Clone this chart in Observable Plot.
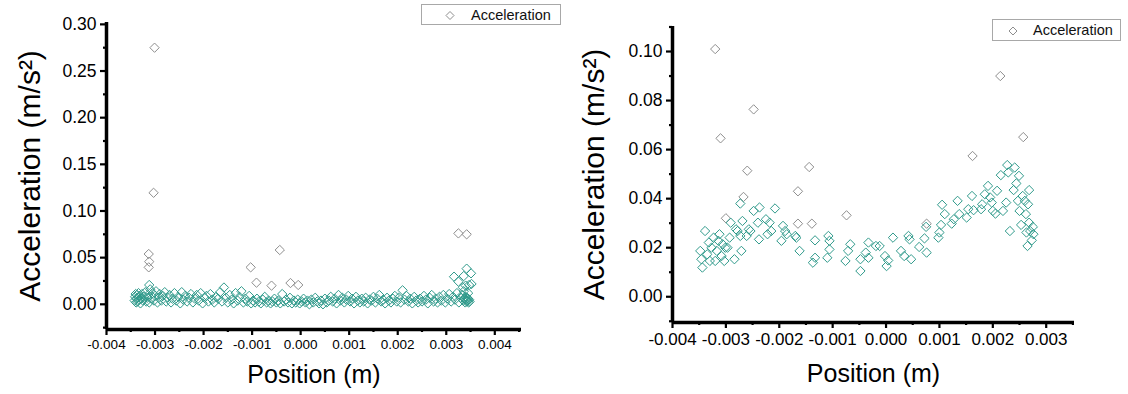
<!DOCTYPE html>
<html><head><meta charset="utf-8">
<script src="https://cdn.jsdelivr.net/npm/d3@7"></script>
<script src="https://cdn.jsdelivr.net/npm/@observablehq/plot@0.6"></script>
<style>
body{margin:0;background:#fff;font-family:"Liberation Sans",Arial,sans-serif;}
#wrap{position:relative;width:1128px;height:394px;overflow:hidden;background:#fff}
.panel{position:absolute;top:0}
.legend{position:absolute;border:1px solid #a8a8a8;background:#fff;font-size:14.5px;color:#111;box-sizing:border-box}
.legend svg{position:absolute;top:0;left:0}
.legend span{position:absolute;top:50%;transform:translateY(-50%);white-space:nowrap}
</style></head><body>
<div id="wrap"></div>
<script>
// ---------- data ----------
const seriesName = "Acceleration";
const xTitle = "Position (m)";
const yTitle = "Acceleration (m/s²)";

// Left panel: main band (teal)
const leftBand = [
[-0.00342,0.004],[-0.00341,0.008],[-0.0034,0.011],[-0.00339,0.002],[-0.00338,0.006],[-0.00337,0.010],[-0.00336,0.003],[-0.00335,0.007],[-0.00334,0.012],[-0.00333,0.005],[-0.00332,0.009],[-0.0033,0.001],[-0.00329,0.006],[-0.00327,0.011],[-0.00325,0.004],[-0.00323,0.008],[-0.0032,0.013],[-0.00318,0.003],[-0.00316,0.007],[-0.00314,0.010],[-0.00312,0.002],[-0.0031,0.016],[-0.00308,0.006],[-0.00305,0.012],[-0.00302,0.004],[-0.003,0.009],[-0.00298,0.014],[-0.00295,0.002],[-0.00292,0.007],[-0.0029,0.011],[-0.00287,0.004],[-0.00284,0.009],[-0.0028,0.013],[-0.00277,0.003],[-0.00274,0.007],[-0.0027,0.010],[-0.00267,0.002],[-0.00264,0.006],[-0.0026,0.012],[-0.00256,0.004],[-0.00252,0.008],[-0.00248,0.001],[-0.00245,0.013],[-0.00242,0.005],[-0.00238,0.009],[-0.00234,0.003],[-0.0023,0.007],[-0.00226,0.011],[-0.00222,0.002],[-0.00218,0.006],[-0.00214,0.010],[-0.0021,0.004],[-0.00206,0.012],[-0.00202,0.001],[-0.00198,0.007],[-0.00194,0.009],[-0.0019,0.003],[-0.00186,0.011],[-0.00182,0.005],[-0.00178,0.002],[-0.00174,0.008],[-0.0017,0.006],[-0.00166,0.013],[-0.00162,0.003],[-0.00158,0.018],[-0.00154,0.007],[-0.0015,0.002],[-0.00146,0.010],[-0.00142,0.005],[-0.00138,0.001],[-0.00134,0.012],[-0.0013,0.004],[-0.00126,0.008],[-0.00122,0.014],[-0.00118,0.002],[-0.00114,0.006],[-0.0011,0.003],[-0.00106,0.009],[-0.00102,0.001],[-0.00098,0.004],[-0.00094,0.002],[-0.0009,0.006],[-0.00086,0.003],[-0.00082,0.001],[-0.00078,0.005],[-0.00074,0.008],[-0.0007,0.002],[-0.00066,0.004],[-0.00062,0.001],[-0.00058,0.003],[-0.00054,0.006],[-0.0005,0.002],[-0.00046,0.004],[-0.00042,0.001],[-0.00038,0.011],[-0.00034,0.003],[-0.0003,0.005],[-0.00026,0.002],[-0.00022,0.007],[-0.00018,0.001],[-0.00014,0.004],[-0.0001,0.002],[-0.00006,0.005],[-0.00002,0.001],[0.00002,0.003],[0.00006,0.006],[0.0001,0.002],[0.00014,0.004],[0.00018,0.0],[0.00022,0.005],[0.00026,0.002],[0.0003,0.007],[0.00034,0.003],[0.00038,0.001],[0.00042,0.004],[0.00046,0.0],[0.0005,0.006],[0.00054,0.002],[0.00058,0.004],[0.00062,0.008],[0.00066,0.003],[0.0007,0.006],[0.00074,0.001],[0.00078,0.010],[0.00082,0.004],[0.00086,0.007],[0.0009,0.002],[0.00094,0.005],[0.00098,0.009],[0.00102,0.003],[0.00106,0.006],[0.0011,0.001],[0.00114,0.008],[0.00118,0.004],[0.00122,0.002],[0.00126,0.006],[0.0013,0.003],[0.00134,0.007],[0.00138,0.001],[0.00142,0.005],[0.00146,0.004],[0.0015,0.008],[0.00154,0.002],[0.00158,0.006],[0.00162,0.010],[0.00166,0.003],[0.0017,0.005],[0.00174,0.001],[0.00178,0.007],[0.00182,0.004],[0.00186,0.002],[0.0019,0.006],[0.00194,0.009],[0.00198,0.003],[0.00202,0.007],[0.00206,0.002],[0.0021,0.015],[0.00214,0.005],[0.00218,0.009],[0.00222,0.003],[0.00226,0.006],[0.0023,0.001],[0.00234,0.008],[0.00238,0.004],[0.00242,0.002],[0.00246,0.006],[0.0025,0.003],[0.00254,0.009],[0.00258,0.005],[0.00262,0.001],[0.00266,0.007],[0.0027,0.010],[0.00274,0.003],[0.00278,0.006],[0.00282,0.002],[0.00286,0.008],[0.0029,0.004],[0.00294,0.010],[0.00298,0.002],[0.00302,0.006],[0.00306,0.011],[0.0031,0.003],[0.00314,0.008],[0.00318,0.005],[0.00322,0.012],[0.00326,0.002],[0.0033,0.007],[0.00333,0.010],[0.00335,0.004],[0.00337,0.006],[0.00339,0.002],[0.0034,0.008],[0.00341,0.005],[0.00342,0.003],[0.00343,0.007],[0.00344,0.004],[0.00345,0.006],[0.00346,0.002],[0.00347,0.005],[0.00348,0.003],[0.00336,0.014],[0.0034,0.020],[0.00345,0.012],
[-0.00312,0.0207],[0.00316,0.0296],[0.00336,0.0303],[0.00342,0.0382],[0.00351,0.0332],[0.00347,0.0207],[0.00325,0.0243],[0.00334,0.0182],[0.00352,0.0218]
];
// Left panel: isolated points (grey)
const leftOutliers = [
[-0.00301,0.275],[-0.00303,0.1195],[-0.00313,0.0539],[-0.00312,0.0457],[-0.00313,0.0396],[-0.00043,0.0582],[-0.00103,0.0396],[-0.00091,0.0232],[-0.0006,0.020],[-0.00021,0.0228],[-0.00005,0.0207],[0.00325,0.076],[0.00342,0.075]
];

// Right panel: main band (teal)
const rightBand = [
[-0.00348,0.0187],[-0.00344,0.0119],[-0.00346,0.0153],[-0.00339,0.0268],[-0.00335,0.0173],[-0.00332,0.0221],[-0.0033,0.0146],[-0.00327,0.020],[-0.00323,0.0241],[-0.0032,0.0146],[-0.00317,0.0187],[-0.00314,0.0228],[-0.00312,0.0255],[-0.00308,0.0166],[-0.00306,0.0214],[-0.00303,0.0146],[-0.00301,0.020],[-0.00297,0.020],[-0.00293,0.0241],[-0.00291,0.0302],[-0.00284,0.0153],[-0.00281,0.0275],[-0.00278,0.0268],[-0.00273,0.0248],[-0.00271,0.0187],[-0.00269,0.0309],[-0.00273,0.038],[-0.00261,0.0248],[-0.00257,0.0275],[-0.00254,0.0268],[-0.00248,0.035],[-0.0024,0.0302],[-0.00238,0.0234],[-0.00237,0.0364],[-0.00225,0.0316],[-0.00222,0.0255],[-0.00218,0.0302],[-0.00215,0.0268],[-0.00208,0.036],[-0.00196,0.0228],[-0.00193,0.0289],[-0.00189,0.0268],[-0.00186,0.0255],[-0.0017,0.0248],[-0.00168,0.0241],[-0.00162,0.0187],[-0.00137,0.0139],[-0.00133,0.023],[-0.00133,0.0159],[-0.00108,0.0248],[-0.00106,0.0228],[-0.00106,0.0193],[-0.0011,0.0159],[-0.00076,0.0146],[-0.00071,0.0187],[-0.00067,0.0214],[-0.00048,0.0105],[-0.00048,0.0153],[-0.00038,0.018],[-0.00033,0.0159],[-0.00033,0.0221],[-0.00019,0.0207],[-0.00012,0.0207],[-0.00002,0.0166],[0.00001,0.0125],[0.00004,0.0148],[0.00013,0.0241],[0.00028,0.0187],[0.00034,0.0166],[0.00042,0.0248],[0.00044,0.0234],[0.00047,0.0153],[0.00062,0.0203],[0.00072,0.0238],[0.00075,0.0285],[0.00076,0.018],[0.00098,0.0241],[0.001,0.0262],[0.00103,0.0293],[0.00105,0.0375],[0.0011,0.0337],[0.00123,0.0298],[0.00127,0.0316],[0.00134,0.0391],[0.00137,0.0337],[0.00151,0.0323],[0.00154,0.0357],[0.00161,0.0411],[0.00164,0.0353],[0.00178,0.0357],[0.0018,0.0377],[0.00185,0.0418],[0.00191,0.0452],[0.00195,0.0405],[0.00198,0.0384],[0.002,0.035],[0.00205,0.0339],[0.00208,0.0432],[0.00215,0.0496],[0.00219,0.035],[0.00225,0.0384],[0.00227,0.0537],[0.00229,0.0507],[0.00232,0.0268],[0.00239,0.0435],[0.00241,0.0527],[0.00244,0.0462],[0.00247,0.0391],[0.00249,0.0493],[0.0025,0.035],[0.00253,0.0293],[0.00256,0.0411],[0.0026,0.0391],[0.00262,0.0337],[0.00263,0.0262],[0.00265,0.0207],[0.00266,0.0377],[0.00268,0.0302],[0.00268,0.0435],[0.0027,0.0268],[0.00273,0.023],[0.00275,0.0285],[0.00276,0.0255]
];
// Right panel: isolated points (grey)
const rightOutliers = [
[-0.0032,0.101],[-0.0031,0.0646],[-0.00248,0.0764],[-0.0026,0.0514],[-0.00144,0.0529],[-0.00165,0.043],[-0.00074,0.0332],[0.00214,0.090],[0.00257,0.0651],[0.00162,0.0574],[-0.003,0.032],[-0.00267,0.0407],[-0.00165,0.0298],[-0.00139,0.0298],[0.00076,0.0298]
];

// ticks
const leftXTicks = [-0.004,-0.003,-0.002,-0.001,0,0.001,0.002,0.003,0.004];
const leftXMinor = [-0.0035,-0.0025,-0.0015,-0.0005,0.0005,0.0015,0.0025,0.0035,0.0045];
const leftYTicks = [0,0.05,0.10,0.15,0.20,0.25,0.30];
const leftYMinor = [-0.025,0.025,0.075,0.125,0.175,0.225,0.275];
const rightXTicks = [-0.004,-0.003,-0.002,-0.001,0,0.001,0.002,0.003];
const rightXMinor = [-0.0035,-0.0025,-0.0015,-0.0005,0.0005,0.0015,0.0025,0.0035];
const rightYTicks = [0,0.02,0.04,0.06,0.08,0.10];
const rightYMinor = [-0.01,0.01,0.03,0.05,0.07,0.09,0.11];

// ---------- drawing ----------
const teal = "#2f9a8b";
const grey = "#8e8e8e";

function panel(o) {
  const fx = d => d[0], fy = d => d[1];
  return Plot.plot({
    width: o.width, height: 394,
    marginLeft: o.ml, marginRight: o.mr, marginTop: o.mt, marginBottom: o.mb,
    style: {background: "#fff", color: "#000", fontFamily: '"Liberation Sans", Arial, sans-serif', overflow: "visible"},
    x: {domain: o.xd, label: null},
    y: {domain: o.yd, label: null},
    marks: [
      Plot.dot(o.out, {x: fx, y: fy, symbol: "diamond2", r: 4.2, stroke: grey, strokeWidth: 1, fill: "none"}),
      Plot.dot(o.band, {x: fx, y: fy, symbol: "diamond2", r: 4.2, stroke: teal, strokeWidth: 1, fill: "none"}),
      Plot.axisY(o.yMinor, {tickSize: 3, strokeWidth: 2.2, tickFormat: () => "", label: null}),
      Plot.axisY(o.yTicks, {tickSize: 6, tickPadding: 4, strokeWidth: 2.2, fontSize: o.yFont, tickFormat: d => d.toFixed(2), label: null}),
      Plot.axisX(o.xMinor, {tickSize: 3, strokeWidth: 2.2, tickFormat: () => "", label: null}),
      Plot.axisX(o.xTicks, {tickSize: 6, tickPadding: 4, strokeWidth: 2.2, fontSize: o.xFont, tickFormat: d => d.toFixed(3), label: null}),
      Plot.ruleX([o.xd[0]], {stroke: "#000", strokeWidth: 3.5}),
      Plot.ruleY([o.yd[0]], {stroke: "#000", strokeWidth: 3.5}),
      Plot.text([yTitle], {frameAnchor: "left", textAnchor: "middle", lineAnchor: "middle", dx: o.ytDx, rotate: -90, fontSize: 30, fill: "#000"}),
      Plot.text([xTitle], {frameAnchor: "bottom", textAnchor: "middle", lineAnchor: "middle", dy: o.xtDy, fontSize: 25, fill: "#000"})
    ]
  });
}

const wrap = document.getElementById("wrap");

const left = panel({
  width: 560, ml: 106, mr: 39, mt: 22, mb: 65,
  xd: [-0.004, 0.00455], yd: [-0.027, 0.302],
  band: leftBand, out: leftOutliers,
  xTicks: leftXTicks, xMinor: leftXMinor, yTicks: leftYTicks, yMinor: leftYMinor,
  xFont: 13.5, yFont: 17.5, ytDx: -76, xtDy: 45
});
left.classList.add("panel"); left.style.left = "0px";
wrap.appendChild(left);

const right = panel({
  width: 568, ml: 112, mr: 54, mt: 26, mb: 72,
  xd: [-0.004, 0.00353], yd: [-0.0105, 0.1102],
  band: rightBand, out: rightOutliers,
  xTicks: rightXTicks, xMinor: rightXMinor, yTicks: rightYTicks, yMinor: rightYMinor,
  xFont: 17, yFont: 17.5, ytDx: -78, xtDy: 51
});
right.classList.add("panel"); right.style.left = "560px";
wrap.appendChild(right);

function legend(left, top, w, h, dX, tX) {
  const d = document.createElement("div");
  d.className = "legend";
  Object.assign(d.style, {left: left + "px", top: top + "px", width: w + "px", height: h + "px"});
  d.innerHTML = `<svg width="${w}" height="${h}"><path d="M${dX} ${h/2 - 4}L${dX + 4} ${h/2}L${dX} ${h/2 + 4}L${dX - 4} ${h/2}Z" fill="none" stroke="${grey}" stroke-width="1"/></svg><span style="left:${tX}px">${seriesName}</span>`;
  wrap.appendChild(d);
}
legend(421, 4, 140, 21, 28, 49);
legend(992, 19, 129, 22, 20, 40);
</script>
</body></html>
